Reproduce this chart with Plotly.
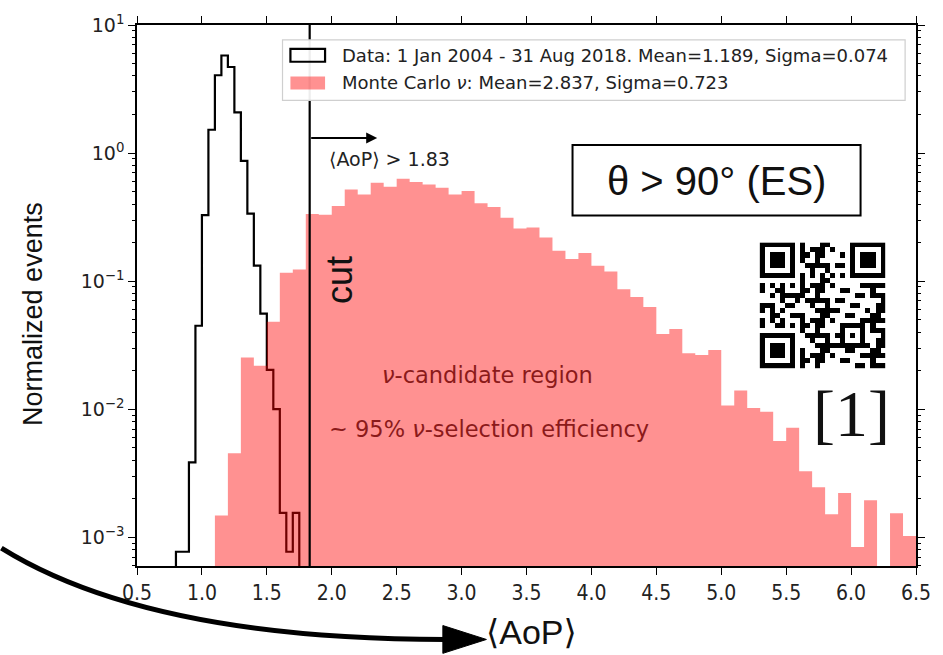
import math
import plotly.graph_objects as go

# ---------------- data ----------------
DATA_EDGE0 = 0.80
DATA_BIN = 0.05
data_vals = [0.00077, 0.00077, 0.00384, 0.0448, 0.327, 1.52, 4.05, 5.78, 4.70,
             2.08, 0.87, 0.336, 0.132, 0.0558, 0.0203, 0.0100, 0.00155, 0.00077, 0.00155]

MC_EDGE0 = 1.10
MC_BIN = 0.10
mc_vals = [0.00148, 0.00453, 0.0253, 0.0218, 0.0481, 0.116, 0.123, 0.335, 0.330, 0.386,
           0.520, 0.475, 0.585, 0.545, 0.629, 0.593, 0.568, 0.535, 0.475, 0.505,
           0.405, 0.379, 0.313, 0.258, 0.262, 0.219, 0.173, 0.149, 0.166, 0.132,
           0.119, 0.0863, 0.075, 0.0629, 0.0386, 0.0422, 0.0273, 0.0265, 0.029, 0.0107,
           0.0140, 0.0102, 0.00953, 0.00565, 0.00716, 0.00327, 0.00246, 0.00151, 0.00221, 0.00084,
           0.00194, 0.0, 0.00154, 0.00102]

CUT = 1.83
ARROW_END = 2.35
ARROW_Y = 1.31

x_ticks = [0.5, 1.0, 1.5, 2.0, 2.5, 3.0, 3.5, 4.0, 4.5, 5.0, 5.5, 6.0, 6.5]
x_ticktext = ["0.5", "1.0", "1.5", "2.0", "2.5", "3.0", "3.5", "4.0", "4.5", "5.0", "5.5", "6.0", "6.5"]
y_ticks = [1e-3, 1e-2, 1e-1, 1e0, 1e1]
y_ticktext = ["10<sup>\u22123</sup>", "10<sup>\u22122</sup>", "10<sup>\u22121</sup>", "10<sup>0</sup>", "10<sup>1</sup>"]

legend_data = "Data: 1 Jan 2004 - 31 Aug 2018. Mean=1.189, Sigma=0.074"
legend_mc = "Monte Carlo <i>\u03bd</i>: Mean=2.837, Sigma=0.723"

# ---------------- layout geometry ----------------
FW, FH = 943, 655
L, R, T, B = 137, 924, 21, 566
W, H = R - L, B - T


def px(x):
    return (x - L) / W


def py(y):
    return (B - y) / H


FLOOR = 1e-6


def step_path(edge0, width, vals):
    xs, ys = [edge0], [FLOOR]
    for i, v in enumerate(vals):
        a = edge0 + i * width
        b = a + width
        vv = v if v > 0 else FLOOR
        xs += [a, b]
        ys += [vv, vv]
    xs.append(edge0 + len(vals) * width)
    ys.append(FLOOR)
    return xs, ys


PINK = "rgba(255,0,0,0.43)"

fig = go.Figure()

dx, dy = step_path(DATA_EDGE0, DATA_BIN, data_vals)
fig.add_trace(go.Scatter(x=dx, y=dy, mode="lines", line=dict(color="black", width=2.2),
                         showlegend=False, hoverinfo="skip"))

mx, my = step_path(MC_EDGE0, MC_BIN, mc_vals)
fig.add_trace(go.Scatter(x=mx, y=my, mode="lines", fill="toself", fillcolor=PINK,
                         line=dict(color="rgba(0,0,0,0)", width=0),
                         showlegend=False, hoverinfo="skip"))

# QR-like decoration
N = 25
qr = [[0] * N for _ in range(N)]
for i in range(N):
    for j in range(N):
        qr[i][j] = 1 if ((i * i * 3 + j * 7 + i * j * 5 + 11 + (j * j) % 5) % 7) < 3 else 0


def finder(r0, c0):
    for i in range(7):
        for j in range(7):
            edge = i in (0, 6) or j in (0, 6)
            core = 2 <= i <= 4 and 2 <= j <= 4
            qr[r0 + i][c0 + j] = 1 if (edge or core) else 0
    for k in range(-1, 8):
        for (a, b) in ((r0 - 1, c0 + k), (r0 + 7, c0 + k), (r0 + k, c0 - 1), (r0 + k, c0 + 7)):
            if 0 <= a < N and 0 <= b < N:
                qr[a][b] = 0


finder(0, 0)
finder(0, N - 7)
finder(N - 7, 0)
for k in range(8, N - 8):
    qr[6][k] = 1 if k % 2 == 0 else 0
    qr[k][6] = 1 if k % 2 == 0 else 0
for i in range(16, 21):
    for j in range(16, 21):
        edge = i in (16, 20) or j in (16, 20)
        qr[i][j] = 1 if (edge or (i == 18 and j == 18)) else 0

fig.add_trace(go.Heatmap(z=qr, colorscale=[[0, "white"], [1, "black"]], showscale=False,
                         xaxis="x2", yaxis="y2", hoverinfo="skip", xgap=0, ygap=0))

minor_vals = [m * 10.0 ** e for e in range(-4, 2) for m in range(2, 10)]

fig.update_layout(
    width=FW, height=FH, autosize=False,
    margin=dict(l=L, r=FW - R, t=T, b=FH - B, pad=0),
    paper_bgcolor="white", plot_bgcolor="white",
    showlegend=False,
    xaxis=dict(range=[0.5, 6.5], tickvals=x_ticks, ticktext=x_ticktext,
               showline=True, linecolor="black", linewidth=1.5, mirror="ticks",
               ticks="outside", ticklen=7, tickwidth=1.3, tickcolor="black",
               showgrid=False, zeroline=False,
               tickfont=dict(family="Liberation Sans Narrow, DejaVu Sans Condensed, DejaVu Sans",
                             size=21, color="#222")),
    yaxis=dict(type="log", range=[math.log10(5.96e-4), 1.0], tickvals=y_ticks, ticktext=y_ticktext,
               showline=True, linecolor="black", linewidth=1.5, mirror="ticks",
               ticks="outside", ticklen=7, tickwidth=1.3, tickcolor="black",
               showgrid=False, zeroline=False,
               minor=dict(tickvals=minor_vals, ticks="outside", ticklen=3.5, tickwidth=1,
                          tickcolor="black", showgrid=False),
               tickfont=dict(family="DejaVu Sans", size=19, color="#222")),
    xaxis2=dict(domain=[px(766), px(893)], anchor="y2", visible=False, range=[-0.5, N - 0.5]),
    yaxis2=dict(domain=[py(367), py(240)], anchor="x2", visible=False, range=[N - 0.5, -0.5]),
)

shapes = []
# cut line
shapes.append(dict(type="line", xref="x", yref="paper", x0=CUT, x1=CUT, y0=0, y1=1,
                   line=dict(color="black", width=2.2), layer="above"))
# legend box
shapes.append(dict(type="rect", xref="paper", yref="paper", x0=px(284), x1=px(913), y0=py(97), y1=py(36),
                   line=dict(color="#cfcfcf", width=1.2), fillcolor="rgba(255,255,255,0.93)", layer="above"))
shapes.append(dict(type="rect", xref="paper", yref="paper", x0=px(292), x1=px(327), y0=py(58), y1=py(45),
                   line=dict(color="black", width=2.2), fillcolor="rgba(0,0,0,0)", layer="above"))
shapes.append(dict(type="rect", xref="paper", yref="paper", x0=px(292), x1=px(327), y0=py(86), y1=py(73),
                   line=dict(width=0), fillcolor=PINK, layer="above"))
# theta box
shapes.append(dict(type="rect", xref="paper", yref="paper", x0=px(577), x1=px(868), y0=py(213), y1=py(142),
                   line=dict(color="black", width=2), fillcolor="white", layer="above"))
# curved arrow to x title
p0 = (0, 548)
c1 = (100, 610)
c2 = (250, 640)
p1 = (449, 640)
path = "M {} {} C {} {}, {} {}, {} {}".format(px(p0[0]), py(p0[1]), px(c1[0]), py(c1[1]),
                                              px(c2[0]), py(c2[1]), px(p1[0]), py(p1[1]))
shapes.append(dict(type="path", xref="paper", yref="paper", path=path,
                   line=dict(color="black", width=5), layer="above"))
tri = "M {} {} L {} {} L {} {} Z".format(px(446), py(626), px(490), py(640), px(446), py(654))
shapes.append(dict(type="path", xref="paper", yref="paper", path=tri,
                   line=dict(color="black", width=1), fillcolor="black", layer="above"))
fig.update_layout(shapes=shapes)

ann = []
# cut arrow
ann.append(dict(x=ARROW_END, y=math.log10(ARROW_Y), ax=CUT, ay=math.log10(ARROW_Y),
                xref="x", yref="y", axref="x", ayref="y", text="", showarrow=True,
                arrowhead=2, arrowsize=1.1, arrowwidth=2, arrowcolor="black"))


def txt(x, y, s, size, family="DejaVu Sans", color="#111", xanchor="center", angle=0):
    ann.append(dict(x=px(x), y=py(y), xref="paper", yref="paper", text=s, showarrow=False,
                    xanchor=xanchor, yanchor="middle", textangle=angle,
                    font=dict(family=family, size=size, color=color)))


txt(329, 156, "\u27e8AoP\u27e9 > 1.83", 19, xanchor="left", color="#222")
txt(341, 278, "cut", 36, family="Liberation Sans", angle=-90, color="#111")
txt(342, 51.5, legend_data, 18, xanchor="left", color="#222")
txt(342, 79, legend_mc, 18, xanchor="left", color="#222")
txt(722, 178, "\u03b8 > 90\u00b0 (ES)", 40, family="Liberation Sans", color="#111")
txt(859, 412, "[1]", 66, family="Liberation Serif", color="#111")
txt(491, 374, "<i>\u03bd</i>-candidate region", 22.5, color="#8b1a1a")
txt(493, 428, "~ 95% <i>\u03bd</i>-selection efficiency", 22.5, color="#8b1a1a")
txt(32, 312, "Normalized events", 27, family="Liberation Sans", angle=-90, color="#111")
txt(536, 632, "\u27e8AoP\u27e9", 34, family="Liberation Sans Narrow, Liberation Sans, DejaVu Sans", color="#111")
fig.update_layout(annotations=ann)

fig.write_html("out.html")
